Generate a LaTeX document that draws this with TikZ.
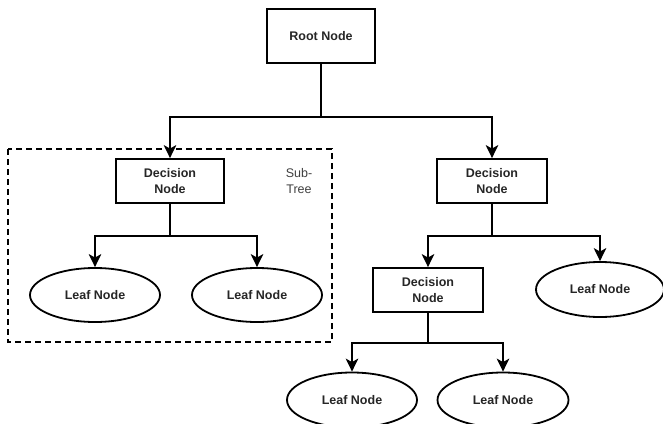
\documentclass[tikz,border=0pt]{standalone}
\usepackage{fontspec}
\setmainfont{Liberation Sans}
\usetikzlibrary{shapes.geometric,arrows.meta}
\begin{document}
\begin{tikzpicture}[x=1pt,y=-1pt,
  every node/.style={font=\fontsize{12.5}{16}\selectfont\bfseries, align=center, inner sep=0pt, text=black!85},
  box/.style={draw=black, line width=1.8pt, rectangle},
  leaf/.style={draw=black, line width=1.8pt, ellipse},
  conn/.style={line width=1.8pt, -{Stealth[length=13pt,width=12.5pt,inset=3.5pt]}},
  link/.style={line width=1.8pt}]
\useasboundingbox (0,0) rectangle (663,423);
\fill[white] (0,0) rectangle (663,423);
% dashed subtree frame
\draw[line width=1.8pt, dash pattern=on 6pt off 4pt] (8,149) rectangle (332,342);
\node[font=\fontsize{12.5}{16}\selectfont, text=black!75] (sub) at (299,181) {Sub-\\Tree};
% nodes
\node[box, minimum width=108pt, minimum height=54pt] (root) at (321,36) {Root Node};
\node[box, minimum width=108pt, minimum height=44pt] (decL) at (170,181) {Decision\\Node};
\node[box, minimum width=110pt, minimum height=44pt] (decR) at (492,181) {Decision\\Node};
\node[box, minimum width=110pt, minimum height=44pt] (decB) at (428,290) {Decision\\Node};
\node[leaf, minimum width=130pt, minimum height=54pt] (leafL1) at (95,295) {Leaf Node};
\node[leaf, minimum width=130pt, minimum height=54pt] (leafL2) at (257,295) {Leaf Node};
\node[leaf, minimum width=128pt, minimum height=55pt] (leafR) at (600,289.5) {Leaf Node};
\node[leaf, minimum width=130pt, minimum height=55pt] (leafB1) at (352,400) {Leaf Node};
\node[leaf, minimum width=131pt, minimum height=55pt] (leafB2) at (503,400) {Leaf Node};
% connectors
\coordinate (j0) at (321,117);
\coordinate (j1) at (170,236);
\coordinate (j2) at (492,236);
\coordinate (j3) at (428,343);
\draw[link] (root.south) -- (j0);
\draw[conn] (j0) -| (decL.north);
\draw[conn] (j0) -| (decR.north);
\draw[link] (decL.south) -- (j1);
\draw[conn] (j1) -| (leafL1.north);
\draw[conn] (j1) -| (leafL2.north);
\draw[link] (decR.south) -- (j2);
\draw[conn] (j2) -| (decB.north);
\draw[conn] (j2) -| (leafR.north);
\draw[link] (decB.south) -- (j3);
\draw[conn] (j3) -| (leafB1.north);
\draw[conn] (j3) -| (leafB2.north);
\end{tikzpicture}
\end{document}
